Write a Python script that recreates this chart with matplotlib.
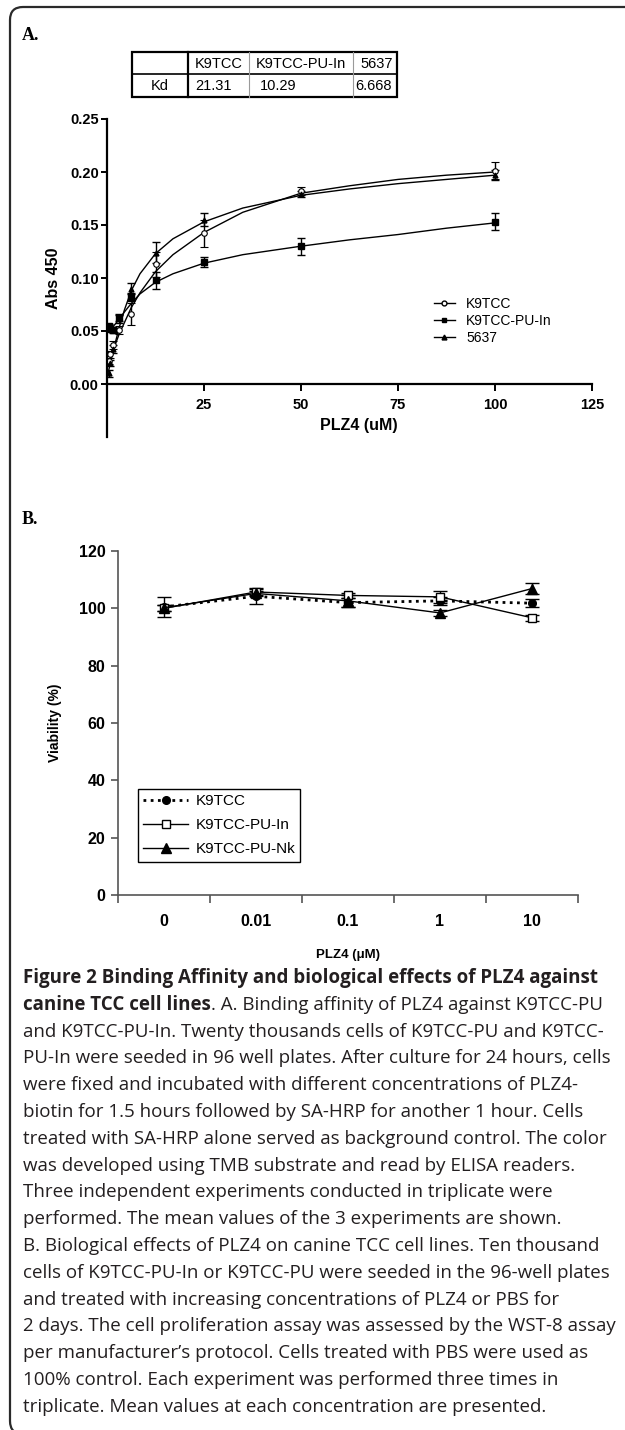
import matplotlib
matplotlib.use("Agg")
import matplotlib.pyplot as plt
import matplotlib.patches as mpatches
from matplotlib.lines import Line2D

W, H = 625, 1430

# ---- panel A: binding curve (Abs 450 vs PLZ4 uM) ----
conc_a = [0.39, 0.78, 1.56, 3.125, 6.25, 12.5, 25, 50, 100]
k9tcc_abs = [0.022, 0.028, 0.037, 0.051, 0.066, 0.113, 0.142, 0.182, 0.201]
k9tcc_err = [0.003, 0.003, 0.004, 0.004, 0.010, 0.012, 0.013, 0.004, 0.008]
puin_abs = [0.055, 0.052, 0.051, 0.062, 0.082, 0.098, 0.115, 0.130, 0.153]
puin_err = [0.002, 0.002, 0.003, 0.003, 0.004, 0.008, 0.005, 0.008, 0.008]
c5637_abs = [0.010, 0.020, 0.033, 0.062, 0.090, 0.124, 0.155, 0.179, 0.197]
c5637_err = [0.003, 0.003, 0.004, 0.004, 0.005, 0.010, 0.006, 0.003, 0.005]

# fitted curves
fit_x = [0.39, 1, 2, 3.125, 4.5, 6.25, 8.5, 12.5, 17, 25, 35, 50, 62.5, 75, 87.5, 100]
fit_k9tcc = [0.018, 0.026, 0.036, 0.047, 0.058, 0.072, 0.086, 0.106, 0.122, 0.143,
             0.162, 0.180, 0.187, 0.193, 0.197, 0.200]
fit_puin = [0.050, 0.052, 0.056, 0.061, 0.068, 0.076, 0.085, 0.096, 0.104, 0.114,
            0.122, 0.130, 0.136, 0.141, 0.147, 0.152]
fit_5637 = [0.012, 0.022, 0.037, 0.053, 0.070, 0.088, 0.104, 0.123, 0.137, 0.153,
            0.166, 0.178, 0.184, 0.189, 0.193, 0.197]

kd_names = ["K9TCC", "K9TCC-PU-In", "5637"]
kd_values = ["21.31", "10.29", "6.668"]

# ---- panel B: viability ----
labels_b = ["0", "0.01", "0.1", "1", "10"]
k9tcc_via = [100.5, 104.2, 102.0, 102.6, 101.8]
k9tcc_via_err = [3.6, 2.8, 1.5, 1.5, 1.3]
puin_via = [100.0, 105.7, 104.5, 104.0, 96.7]
puin_via_err = [1.0, 1.0, 0.8, 2.0, 1.0]
punk_via = [100.2, 105.2, 102.6, 98.4, 106.9]
punk_via_err = [1.0, 1.0, 2.2, 1.0, 2.0]

caption_lines = [
    "Figure 2 Binding Affinity and biological effects of PLZ4 against",
    ("canine TCC cell lines", ". A. Binding affinity of PLZ4 against K9TCC-PU"),
    "and K9TCC-PU-In. Twenty thousands cells of K9TCC-PU and K9TCC-",
    "PU-In were seeded in 96 well plates. After culture for 24 hours, cells",
    "were fixed and incubated with different concentrations of PLZ4-",
    "biotin for 1.5 hours followed by SA-HRP for another 1 hour. Cells",
    "treated with SA-HRP alone served as background control. The color",
    "was developed using TMB substrate and read by ELISA readers.",
    "Three independent experiments conducted in triplicate were",
    "performed. The mean values of the 3 experiments are shown.",
    "B. Biological effects of PLZ4 on canine TCC cell lines. Ten thousand",
    "cells of K9TCC-PU-In or K9TCC-PU were seeded in the 96-well plates",
    "and treated with increasing concentrations of PLZ4 or PBS for",
    "2 days. The cell proliferation assay was assessed by the WST-8 assay",
    "per manufacturer\u2019s protocol. Cells treated with PBS were used as",
    "100% control. Each experiment was performed three times in",
    "triplicate. Mean values at each concentration are presented.",
]

plt.rcParams['font.family'] = ['Liberation Sans', 'DejaVu Sans']


def fx(px):
    return px / W


def fy(py):
    return 1 - py / H


fig = plt.figure(figsize=(W / 100, H / 100), dpi=100)

# outer rounded frame
frame = mpatches.FancyBboxPatch((0.10, -0.04), 6.45, 14.27,
                                boxstyle="round,pad=0,rounding_size=0.13",
                                transform=fig.dpi_scale_trans, fill=False,
                                edgecolor="#2a2a2a", linewidth=1.6, clip_on=False)
fig.patches.append(frame)

fig.text(fx(22), fy(40), "A.", family="Liberation Serif", weight="bold", fontsize=13)
fig.text(fx(22), fy(524), "B.", family="Liberation Serif", weight="bold", fontsize=13)

# ---- Kd table ----
tl, tr, tt, tb, tm = 132, 397, 52, 97, 74
col_x = [188, 249, 353]
fig.add_artist(mpatches.Rectangle((fx(tl), fy(tb)), fx(tr) - fx(tl), fy(tt) - fy(tb),
                                  transform=fig.transFigure, fill=False,
                                  edgecolor="black", linewidth=1.6))
fig.add_artist(Line2D([fx(tl), fx(tr)], [fy(tm), fy(tm)], transform=fig.transFigure,
                      color="black", linewidth=1.2))
fig.add_artist(Line2D([fx(col_x[0])] * 2, [fy(tt), fy(tb)], transform=fig.transFigure,
                      color="black", linewidth=1.6))
for cx in col_x[1:]:
    fig.add_artist(Line2D([fx(cx)] * 2, [fy(tt), fy(tb)], transform=fig.transFigure,
                          color="#9a9a9a", linewidth=0.8))
head_x = [195, 256, 360]
val_x = [195, 260, 355]
for name, hx in zip(kd_names, head_x):
    fig.text(fx(hx), fy(63.5), name, fontsize=10.5, va="center", ha="left")
for val, vx in zip(kd_values, val_x):
    fig.text(fx(vx), fy(86), val, fontsize=10.5, va="center", ha="left")
fig.text(fx(160), fy(86), "Kd", fontsize=10.5, va="center", ha="center")

# ---- panel A axes ----
axA = fig.add_axes([fx(107), fy(437), fx(592) - fx(107), fy(119) - fy(437)])
axA.set_xlim(0, 125)
axA.set_ylim(-0.05, 0.25)
axA.spines['top'].set_visible(False)
axA.spines['right'].set_visible(False)
axA.spines['bottom'].set_position(('data', 0))
for s in ('left', 'bottom'):
    axA.spines[s].set_linewidth(1.6)
axA.set_xticks([25, 50, 75, 100, 125])
axA.set_yticks([0, 0.05, 0.10, 0.15, 0.20, 0.25])
axA.set_yticklabels(["0.00", "0.05", "0.10", "0.15", "0.20", "0.25"])
axA.tick_params(axis='both', direction='out', length=4, width=1.4, labelsize=10.5, pad=2)
axA.tick_params(axis='x', length=5, pad=5)
for lab in axA.get_xticklabels() + axA.get_yticklabels():
    lab.set_fontweight("bold")
axA.set_ylabel("Abs 450", fontsize=11.5, fontweight="bold", labelpad=6)
axA.set_xlabel("PLZ4 (uM)", fontsize=11.5, fontweight="bold")
axA.xaxis.set_label_coords(0.52, 0.06)

axA.plot(fit_x, fit_k9tcc, color="black", lw=1.0)
axA.plot(fit_x, fit_puin, color="black", lw=1.0)
axA.plot(fit_x, fit_5637, color="black", lw=1.0)
eb = dict(ecolor="black", elinewidth=1.0, capsize=3, capthick=1.0, linestyle="none")
axA.errorbar(conc_a, k9tcc_abs, yerr=k9tcc_err, marker="o", ms=4, mfc="white",
             mec="black", mew=0.8, **eb)
axA.errorbar(conc_a, puin_abs, yerr=puin_err, marker="s", ms=4, mfc="black",
             mec="black", **eb)
axA.errorbar(conc_a, c5637_abs, yerr=c5637_err, marker="^", ms=3.5, mfc="black",
             mec="black", **eb)

hA = [Line2D([], [], color="black", lw=1, marker="o", ms=3.5, mfc="white", mec="black"),
      Line2D([], [], color="black", lw=1, marker="s", ms=3.5, mfc="black"),
      Line2D([], [], color="black", lw=1, marker="^", ms=3.5, mfc="black")]
fig.legend(hA, ["K9TCC", "K9TCC-PU-In", "5637"], loc="upper left",
           bbox_to_anchor=(fx(434), fy(297)), frameon=False, fontsize=10,
           handlelength=1.5, handletextpad=0.8, labelspacing=0.2,
           borderpad=0, borderaxespad=0)

# ---- panel B axes ----
axB = fig.add_axes([fx(118), fy(895), fx(578) - fx(118), fy(551) - fy(895)])
xb = [i + 0.5 for i in range(len(labels_b))]
axB.set_xlim(0, len(labels_b))
axB.set_ylim(0, 120)
axB.spines['top'].set_visible(False)
axB.spines['right'].set_visible(False)
for s in ('left', 'bottom'):
    axB.spines[s].set_color("#555555")
    axB.spines[s].set_linewidth(1.2)
axB.set_yticks(range(0, 121, 20))
axB.set_xticks(range(0, len(labels_b) + 1))
axB.set_xticklabels([])
axB.set_xticks(xb, minor=True)
axB.set_xticklabels(labels_b, minor=True)
axB.tick_params(axis='y', direction='out', length=5, width=1.2, color="#555555",
                labelsize=11.5, pad=4)
axB.tick_params(axis='x', which='major', direction='out', length=6, width=1.2,
                color="#555555")
axB.tick_params(axis='x', which='minor', length=0, labelsize=11.5, pad=14)
for lab in axB.get_xticklabels(minor=True) + axB.get_yticklabels():
    lab.set_fontweight("bold")
axB.set_ylabel("Viability (%)", fontsize=10, fontweight="bold", labelpad=12)
axB.set_xlabel("PLZ4 (\u03bcM)", fontsize=9.5, fontweight="bold", labelpad=14)

ebB = dict(ecolor="black", elinewidth=1.0, capsize=5, capthick=1.0)
axB.errorbar(xb, k9tcc_via, yerr=k9tcc_via_err, color="black", ls=(0, (1, 1.6)),
             lw=2.0, marker="o", ms=5.5, mfc="black", mec="black", label="K9TCC", **ebB)
axB.errorbar(xb, puin_via, yerr=puin_via_err, color="black", ls="-", lw=1.0,
             marker="s", ms=5.5, mfc="white", mec="black", mew=1.0,
             label="K9TCC-PU-In", **ebB)
axB.errorbar(xb, punk_via, yerr=punk_via_err, color="black", ls="-", lw=1.0,
             marker="^", ms=6.5, mfc="black", mec="black", label="K9TCC-PU-Nk", **ebB)

hB = [Line2D([], [], color="black", ls=(0, (1, 1.6)), lw=2.0, marker="o", ms=5.5,
             mfc="black"),
      Line2D([], [], color="black", ls="-", lw=1.0, marker="s", ms=5.5, mfc="white"),
      Line2D([], [], color="black", ls="-", lw=1.0, marker="^", ms=6.5, mfc="black")]
legB = fig.legend(hB, ["K9TCC", "K9TCC-PU-In", "K9TCC-PU-Nk"], loc="upper left",
                  bbox_to_anchor=(fx(138), fy(789)), fontsize=11, frameon=True,
                  fancybox=False, edgecolor="black", framealpha=1,
                  handlelength=2.9, handletextpad=0.5, labelspacing=0.65,
                  borderpad=0.35, borderaxespad=0)
legB.get_frame().set_linewidth(1.0)

# ---- caption ----
cap_font = "Open Sans"
base_y = 983
step = 26.8
renderer = fig.canvas.get_renderer()

# size the caption so the 4th line spans the same width as in the original
probe = fig.text(0, 0, caption_lines[3], family=cap_font, fontsize=10)
probe_w = probe.get_window_extent(renderer=renderer).width
probe.remove()
cap_size = 10 * 588 / probe_w

for i, line in enumerate(caption_lines):
    y = fy(base_y + i * step)
    if i == 0:
        fig.text(fx(23), y, line, family=cap_font, weight="bold", fontsize=cap_size,
                 va="baseline", color="#231f20")
    elif isinstance(line, tuple):
        t = fig.text(fx(23), y, line[0], family=cap_font, weight="bold",
                     fontsize=cap_size, va="baseline", color="#231f20")
        bb = t.get_window_extent(renderer=renderer)
        fig.text(bb.x1 / (fig.dpi * fig.get_figwidth()), y, line[1], family=cap_font,
                 fontsize=cap_size, va="baseline", color="#231f20")
    else:
        fig.text(fx(23), y, line, family=cap_font, fontsize=cap_size, va="baseline",
                 color="#231f20")

fig.savefig("out.png", dpi=100)
